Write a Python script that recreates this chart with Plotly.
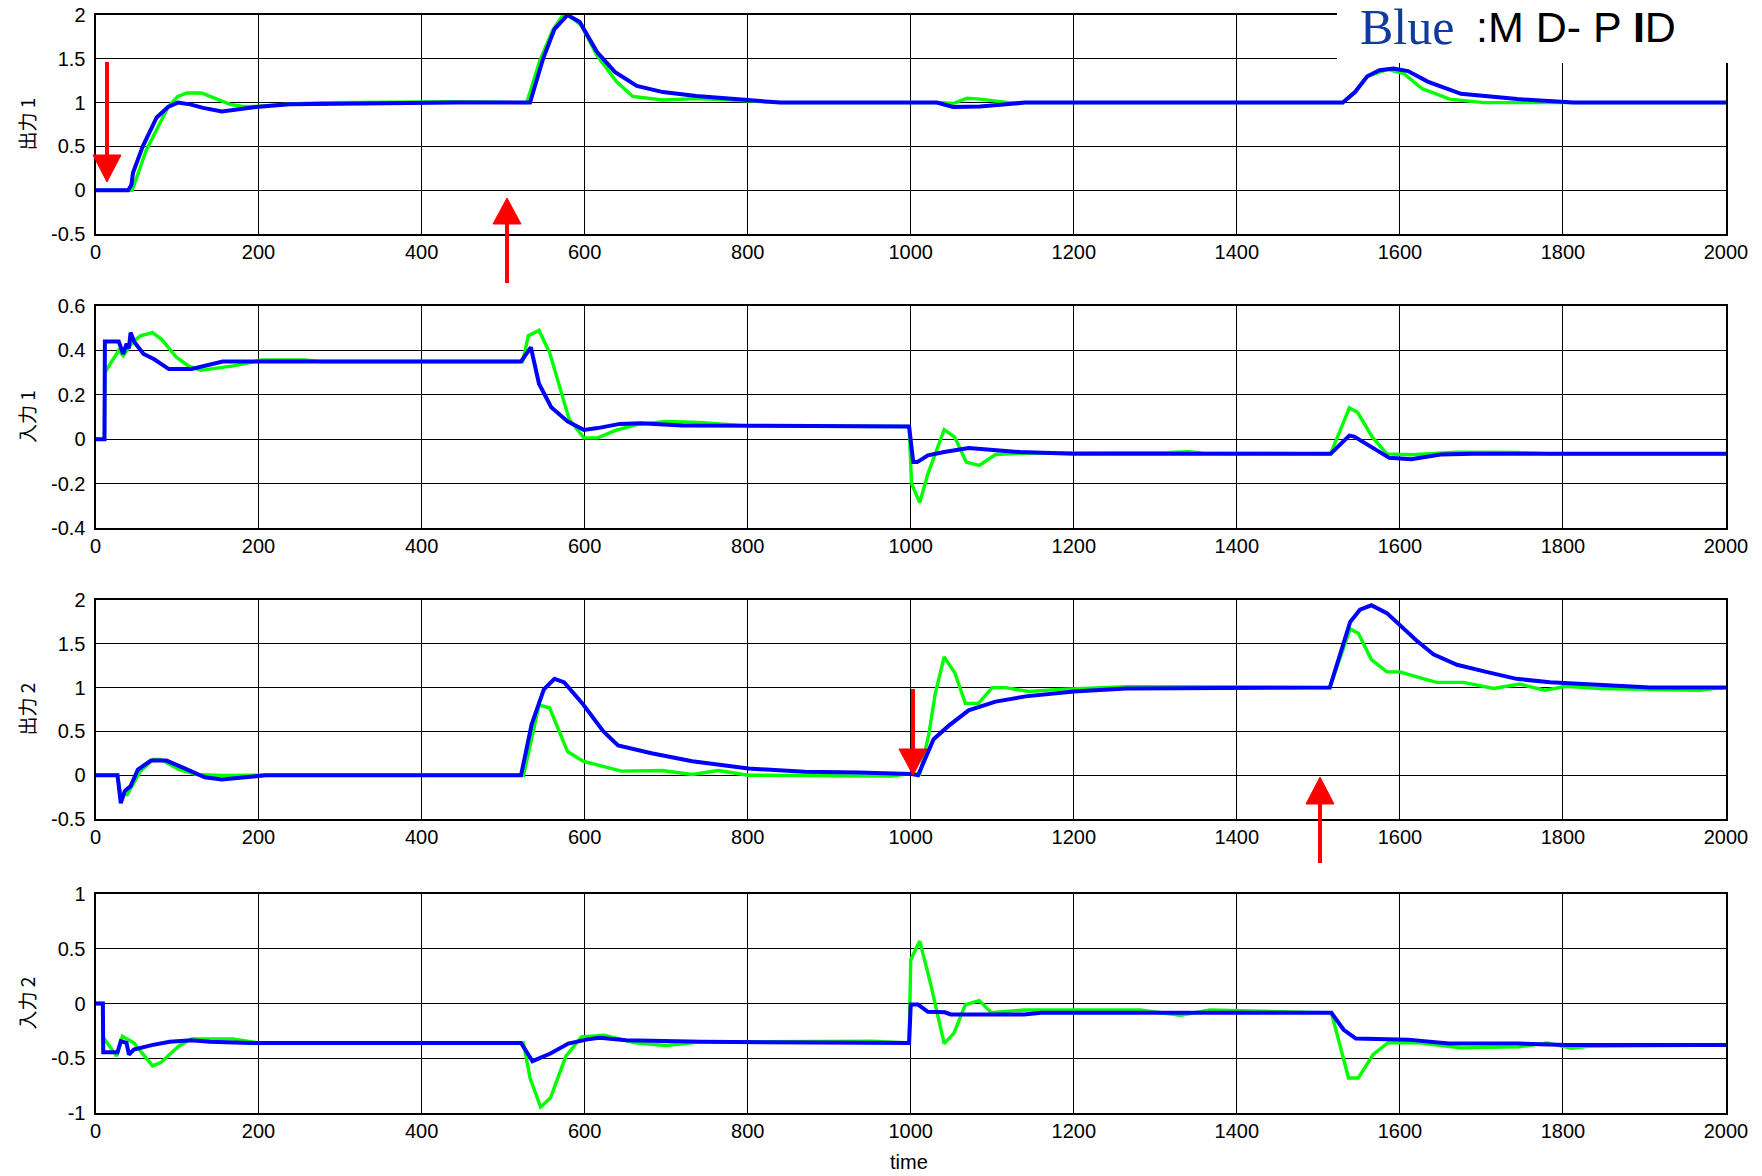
import plotly.graph_objects as go

W, H = 1762, 1176

# ---------------- data ----------------
x_ticks = [0, 200, 400, 600, 800, 1000, 1200, 1400, 1600, 1800, 2000]
x_ticktext = ["0", "200", "400", "600", "800", "1000", "1200", "1400", "1600", "1800", "2000"]

y1_ticks = [-0.5, 0, 0.5, 1, 1.5, 2]
y1_ticktext = ["-0.5", "0", "0.5", "1", "1.5", "2"]
y2_ticks = [-0.4, -0.2, 0, 0.2, 0.4, 0.6]
y2_ticktext = ["-0.4", "-0.2", "0", "0.2", "0.4", "0.6"]
y3_ticks = [-0.5, 0, 0.5, 1, 1.5, 2]
y3_ticktext = ["-0.5", "0", "0.5", "1", "1.5", "2"]
y4_ticks = [-1, -0.5, 0, 0.5, 1]
y4_ticktext = ["-1", "-0.5", "0", "0.5", "1"]

panel_titles = ["出力 1", "入力 1", "出力 2", "入力 2"]
x_title = "time"
label_blue = "Blue"
label_rest = ":M D- P <b>I</b>D"

# 出力1
t_out1_green = [0, 45, 62, 89, 101, 112, 130, 145, 165, 181, 197, 238, 279, 443, 529, 545, 561, 572, 580, 596,
                615, 639, 659, 696, 737, 799, 840, 1036, 1052, 1069, 1085, 1120, 1530, 1545, 1560, 1585, 1605,
                1627, 1661, 1703, 2000]
out1_green = [0, 0, 0.45, 0.95, 1.07, 1.11, 1.11, 1.05, 0.98, 0.955, 0.955, 0.985, 1.0, 1.01, 1.0, 1.48, 1.83,
              1.98, 2.0, 1.88, 1.54, 1.24, 1.07, 1.03, 1.045, 1.02, 1.0, 1.0, 0.99, 1.05, 1.04, 1.0, 1.0, 1.12,
              1.3, 1.38, 1.33, 1.16, 1.04, 1.0, 1.0]
t_out1_blue = [0, 40, 44, 46, 58, 75, 89, 101, 116, 132, 155, 173, 197, 238, 279, 443, 530, 533, 549, 563, 579,
               594, 615, 637, 664, 696, 737, 799, 840, 1032, 1052, 1085, 1110, 1140, 1530, 1545, 1560, 1575, 1592,
               1610, 1634, 1675, 1744, 1813, 2000]
out1_blue = [0, 0, 0.06, 0.2, 0.5, 0.83, 0.95, 1.0, 0.98, 0.94, 0.9, 0.92, 0.95, 0.98, 0.985, 1.0, 1.0, 1.0, 1.5,
             1.84, 2.0, 1.92, 1.58, 1.35, 1.19, 1.12, 1.076, 1.03, 1.0, 1.0, 0.95, 0.955, 0.98, 1.0, 1.0, 1.12,
             1.3, 1.37, 1.39, 1.36, 1.24, 1.1, 1.04, 1.0, 1.0]

# 入力1
t_in1_green = [0, 11, 11.5, 28.5, 34, 44, 55, 70, 81, 99, 114, 129, 169, 204, 257, 274, 524, 531, 544, 557, 581,
               599, 616, 638, 664, 700, 740, 800, 998, 1001, 1011, 1021, 1041, 1054, 1068, 1084, 1104, 1134, 1319,
               1340, 1359, 1515, 1538, 1548, 1566, 1584, 1614, 1670, 1743, 1789, 2000]
in1_green = [0, 0, 0.3, 0.4, 0.376, 0.43, 0.466, 0.48, 0.45, 0.37, 0.33, 0.31, 0.33, 0.357, 0.357, 0.35, 0.35,
             0.466, 0.49, 0.39, 0.09, 0.006, 0.006, 0.04, 0.066, 0.08, 0.075, 0.06, 0.057, -0.2, -0.286, -0.156,
             0.043, 0.009, -0.103, -0.118, -0.069, -0.063, -0.06, -0.056, -0.063, -0.066, 0.141, 0.121, 0.01,
             -0.066, -0.07, -0.058, -0.06, -0.066, -0.066]
t_in1_blue = [0, 11, 11.5, 28.5, 34, 38, 41, 43, 48, 59, 72, 90, 118, 134, 156, 522, 534, 544, 559, 579, 599, 616,
              643, 669, 720, 998, 1003, 1008, 1021, 1041, 1071, 1094, 1134, 1200, 1515, 1538, 1544, 1587, 1614,
              1650, 1690, 2000]
in1_blue = [0, 0, 0.44, 0.44, 0.384, 0.43, 0.41, 0.48, 0.436, 0.384, 0.36, 0.316, 0.316, 0.33, 0.35, 0.35, 0.414,
            0.25, 0.144, 0.08, 0.042, 0.05, 0.069, 0.072, 0.062, 0.057, -0.103, -0.103, -0.073, -0.058, -0.04,
            -0.046, -0.058, -0.066, -0.066, 0.016, 0.012, -0.084, -0.09, -0.069, -0.066, -0.066]

# 出力2
t_out2_green = [0, 27, 31, 39, 55, 71, 80, 102, 124, 155, 209, 525, 544, 557, 579, 598, 645, 695, 732, 764, 801,
                976, 1000, 1011, 1022, 1030, 1041, 1054, 1067, 1083, 1100, 1116, 1145, 1182, 1264, 1387, 1514,
                1539, 1549, 1565, 1584, 1600, 1625, 1645, 1678, 1715, 1747, 1778, 1804, 1845, 1968, 1984, 2000]
out2_green = [0, 0, -0.22, -0.22, 0.046, 0.18, 0.18, 0.065, 0.008, -0.004, 0, 0, 0.8, 0.77, 0.27, 0.16, 0.046,
              0.053, 0.008, 0.053, 0, -0.01, 0.02, 0.01, 0.46, 0.93, 1.35, 1.17, 0.82, 0.82, 1.0, 1.0, 0.955,
              0.98, 1.01, 1.01, 1.0, 1.67, 1.62, 1.32, 1.18, 1.18, 1.11, 1.06, 1.06, 0.99, 1.04, 0.97, 1.015,
              0.99, 0.97, 0.99, 1.0]
t_out2_blue = [0, 27, 31, 36, 43, 52, 68, 87, 108, 134, 155, 181, 209, 522, 535, 550, 563, 575, 598, 623, 641,
               682, 732, 801, 870, 936, 1000, 1009, 1028, 1046, 1071, 1104, 1141, 1200, 1264, 1514, 1539, 1551,
               1565, 1584, 1600, 1620, 1641, 1670, 1706, 1743, 1784, 1845, 1907, 2000]
out2_blue = [0, 0, -0.32, -0.18, -0.125, 0.065, 0.167, 0.167, 0.084, -0.023, -0.05, -0.03, 0, 0, 0.58, 0.98, 1.1,
             1.06, 0.81, 0.5, 0.34, 0.25, 0.16, 0.076, 0.04, 0.03, 0.015, 0, 0.41, 0.56, 0.74, 0.84, 0.9, 0.955,
             0.99, 1.0, 1.75, 1.89, 1.94, 1.85, 1.71, 1.54, 1.38, 1.26, 1.18, 1.1, 1.06, 1.03, 1.0, 1.0]

# 入力2
t_in2_green = [0, 9, 9.5, 26, 33, 47, 70, 80, 102, 118, 168, 200, 525, 533, 546, 558, 577, 596, 624, 662, 700,
               743, 800, 953, 998, 1000, 1011, 1024, 1041, 1053, 1067, 1084, 1099, 1139, 1281, 1331, 1367, 1516,
               1537, 1549, 1567, 1585, 1624, 1674, 1746, 1781, 1810, 1831, 2000]
in2_green = [0, 0, -0.31, -0.48, -0.3, -0.36, -0.57, -0.54, -0.39, -0.323, -0.323, -0.36, -0.36, -0.68, -0.945,
             -0.863, -0.48, -0.305, -0.29, -0.36, -0.384, -0.35, -0.35, -0.345, -0.36, 0.4, 0.57, 0.19, -0.366,
             -0.27, -0.01, 0.027, -0.085, -0.06, -0.06, -0.107, -0.06, -0.085, -0.68, -0.68, -0.466, -0.36,
             -0.36, -0.405, -0.396, -0.36, -0.41, -0.39, -0.38]
t_in2_blue = [0, 9, 9.5, 27, 31, 38, 41, 47, 69, 91, 118, 140, 190, 522, 536, 558, 580, 602, 618, 651, 743, 924,
              998, 1000, 1009, 1021, 1042, 1049, 1139, 1160, 1516, 1531, 1546, 1610, 1660, 1746, 1803, 2000]
in2_blue = [0, 0, -0.445, -0.445, -0.345, -0.36, -0.466, -0.42, -0.38, -0.35, -0.335, -0.35, -0.36, -0.36,
            -0.527, -0.457, -0.366, -0.33, -0.314, -0.335, -0.35, -0.36, -0.36, -0.01, -0.01, -0.076, -0.08, -0.1,
            -0.1, -0.085, -0.085, -0.24, -0.32, -0.33, -0.366, -0.366, -0.38, -0.38]

# ---------------- layout helpers (pixel -> paper) ----------------
def px(x):
    return x / W


def py(y):
    return 1 - y / H


X0, X1 = 95.5, 1726
panels = [  # (top px, bottom px)
    (15, 234),
    (306, 528),
    (600, 819),
    (894, 1113),
]
y_ranges = [[-0.5, 2], [-0.4, 0.6], [-0.5, 2], [-1, 1]]
y_tickvals = [y1_ticks, y2_ticks, y3_ticks, y4_ticks]
y_ticktexts = [y1_ticktext, y2_ticktext, y3_ticktext, y4_ticktext]

series = [
    (t_out1_green, out1_green, t_out1_blue, out1_blue),
    (t_in1_green, in1_green, t_in1_blue, in1_blue),
    (t_out2_green, out2_green, t_out2_blue, out2_blue),
    (t_in2_green, in2_green, t_in2_blue, in2_blue),
]

GREEN = "#00ff00"
BLUE = "#0000ff"
tick_font = dict(family="Liberation Sans, Arial, sans-serif", size=20, color="black")

fig = go.Figure()
layout = dict(
    width=W, height=H,
    margin=dict(l=0, r=0, t=0, b=0, autoexpand=False),
    paper_bgcolor="white", plot_bgcolor="white",
    showlegend=False,
)

for i, (tg, vg, tb, vb) in enumerate(series):
    n = "" if i == 0 else str(i + 1)
    fig.add_trace(go.Scatter(x=tg, y=vg, mode="lines", line=dict(color=GREEN, width=3.4),
                             xaxis="x" + n, yaxis="y" + n, hoverinfo="skip", cliponaxis=True))
    fig.add_trace(go.Scatter(x=tb, y=vb, mode="lines", line=dict(color=BLUE, width=4),
                             xaxis="x" + n, yaxis="y" + n, hoverinfo="skip", cliponaxis=True))
    top, bot = panels[i]
    layout["xaxis" + n] = dict(
        domain=[px(X0), px(X1)], anchor="y" + n, range=[0, 2000], automargin=False,
        tickmode="array", tickvals=x_ticks, ticktext=x_ticktext,
        showgrid=True, gridcolor="black", gridwidth=1,
        showline=True, linecolor="black", linewidth=2, mirror=True,
        zeroline=False, ticks="", tickfont=tick_font, ticklabelstandoff=-1,
    )
    layout["yaxis" + n] = dict(
        domain=[py(bot), py(top)], anchor="x" + n, range=y_ranges[i], automargin=False,
        tickmode="array", tickvals=y_tickvals[i], ticktext=y_ticktexts[i],
        showgrid=True, gridcolor="black", gridwidth=1,
        showline=True, linecolor="black", linewidth=2, mirror=True,
        zeroline=False, ticks="", tickfont=tick_font, ticklabelstandoff=4,
    )

fig.update_layout(**layout)

# ---------------- annotations ----------------
annotations = []
for i, title in enumerate(panel_titles):
    top, bot = panels[i]
    annotations.append(dict(
        text=title, x=px(26), y=py((top + bot) / 2), xref="paper", yref="paper",
        showarrow=False, textangle=-90, xanchor="center", yanchor="middle",
        font=dict(family="Noto Sans CJK JP, sans-serif", size=19, color="black"),
    ))
annotations.append(dict(
    text=x_title, x=px(909), y=py(1162), xref="paper", yref="paper", showarrow=False,
    xanchor="center", yanchor="middle",
    font=dict(family="Liberation Sans, Arial, sans-serif", size=20, color="black"),
))

# "Blue :MD-PID" label in the top right corner
annotations.append(dict(
    text=label_blue, x=px(1358), y=py(27), xref="paper", yref="paper", showarrow=False,
    xanchor="left", yanchor="middle",
    font=dict(family="Liberation Serif, Times New Roman, serif", size=50, color="#103a9e"),
))
annotations.append(dict(
    text=label_rest, x=px(1474), y=py(27), xref="paper", yref="paper", showarrow=False,
    xanchor="left", yanchor="middle",
    font=dict(family="Liberation Sans, Arial, sans-serif", size=43, color="black"),
))

# ---------------- shapes: white patch and red arrows ----------------
shapes = [dict(type="rect", xref="paper", yref="paper", x0=px(1337), x1=1.0, y0=py(63), y1=1.0,
               fillcolor="white", line=dict(width=0), layer="above")]

# (shaft x, shaft start y, head base y, tip y, head half width) in pixels
arrows = [
    (107, 62, 155, 182, 14),
    (507, 283, 224, 198, 14),
    (913, 689, 749, 775, 14),
    (1320, 863, 804, 777, 14),
]
for ax, y_start, y_base, y_tip, hw in arrows:
    shapes.append(dict(type="line", xref="paper", yref="paper", x0=px(ax), x1=px(ax),
                       y0=py(y_start), y1=py(y_base), line=dict(color="#ff0000", width=4), layer="above"))
    path = "M {:.6f},{:.6f} L {:.6f},{:.6f} L {:.6f},{:.6f} Z".format(
        px(ax - hw), py(y_base), px(ax + hw), py(y_base), px(ax), py(y_tip))
    shapes.append(dict(type="path", xref="paper", yref="paper", path=path,
                       fillcolor="#ff0000", line=dict(color="#ff0000", width=1), layer="above"))

fig.update_layout(annotations=annotations, shapes=shapes)

fig.write_html("out.html")
